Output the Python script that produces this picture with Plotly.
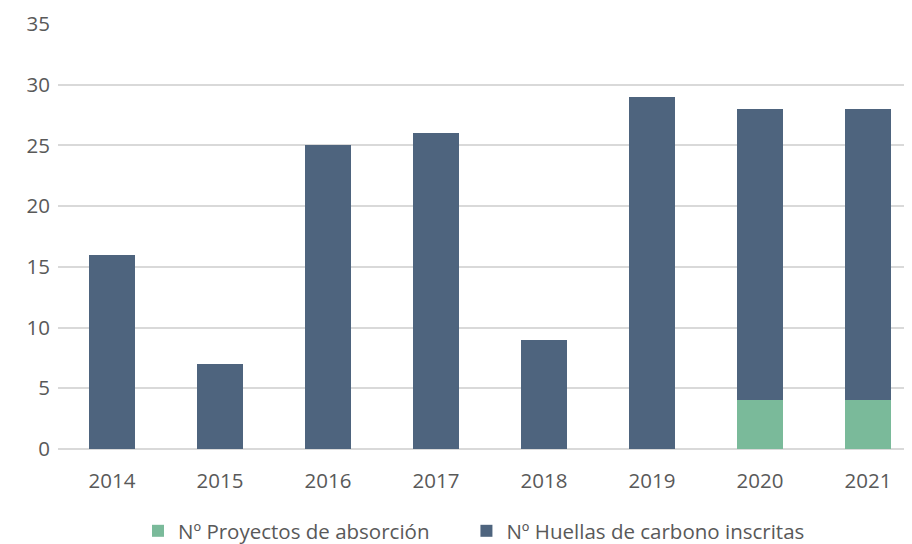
import plotly.graph_objects as go

years = ["2014", "2015", "2016", "2017", "2018", "2019", "2020", "2021"]
proyectos_absorcion = [0, 0, 0, 0, 0, 0, 4, 4]
huellas_carbono = [16, 7, 25, 26, 9, 29, 24, 24]
y_ticks = [0, 5, 10, 15, 20, 25, 30, 35]

FONT = "Open Sans"
TXT = "#595959"
SPACER = "\u00a0" * 6

fig = go.Figure()
fig.add_trace(go.Bar(x=years, y=proyectos_absorcion, name="Nº Proyectos de absorción" + SPACER,
                     marker=dict(color="#7aba9a", line=dict(width=0))))
fig.add_trace(go.Bar(x=years, y=huellas_carbono, name="Nº Huellas de carbono inscritas",
                     marker=dict(color="#4e647e", line=dict(width=0))))

# page body adds an 8px offset; compensate in size and margins
fig.update_layout(
    width=904, height=536,
    barmode="stack", bargap=0.574,
    plot_bgcolor="white", paper_bgcolor="white",
    margin=dict(l=50, r=0, t=16, b=95),
    font=dict(family=FONT, size=20, color=TXT),
    xaxis=dict(type="category", range=[-0.5, 7.407], showgrid=False,
               showline=False, ticks="", tickfont=dict(size=20.5, color=TXT),
               ticklabelstandoff=17),
    yaxis=dict(range=[0, 35], tickvals=y_ticks, showgrid=True, gridcolor="#d9d9d9",
               gridwidth=1.5, zeroline=True, zerolinecolor="#d9d9d9", zerolinewidth=1.5,
               showline=False, ticks="", tickfont=dict(size=20.5, color=TXT),
               ticklabelstandoff=7),
    showlegend=True,
    legend=dict(orientation="h", xref="container", yref="container",
                x=0.1438, xanchor="left", y=0.0243, yanchor="middle",
                font=dict(size=20.5, color=TXT), traceorder="normal",
                itemwidth=30),
)

fig.write_html("out.html")
